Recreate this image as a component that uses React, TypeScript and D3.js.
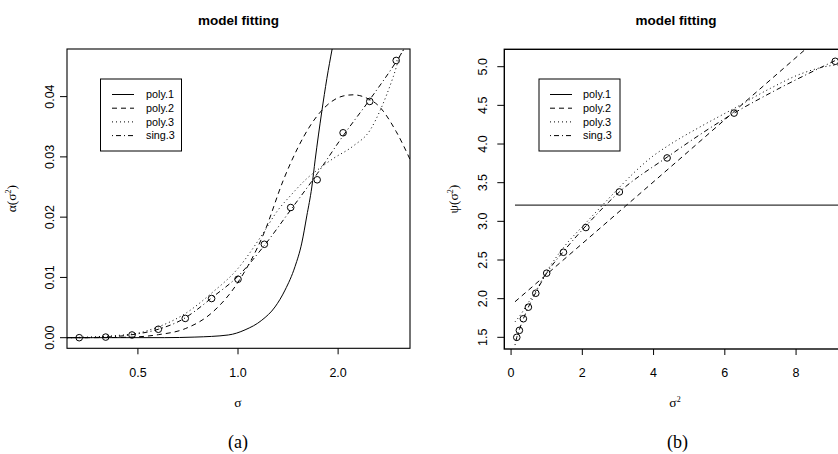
import React from "react";
import * as d3 from "d3";

// ---------- Panel (a): alpha(sigma^2) vs sigma (log axis) ----------
const sigmaObs = [0.333, 0.4, 0.48, 0.576, 0.694, 0.833, 1.0, 1.2, 1.44, 1.73, 2.07, 2.49, 2.99];
const alphaObs = [0.0, 0.0001, 0.00045, 0.0014, 0.0032, 0.0065, 0.0097, 0.0155, 0.0216, 0.0262, 0.034, 0.0392, 0.046];

const aPoly1Sigma = [0.306, 0.6, 0.742, 0.935, 1.05, 1.179, 1.292, 1.385, 1.484, 1.555, 1.61, 1.667, 1.706, 1.786, 1.85, 1.919];
const aPoly1Alpha = [0.0, 0.00001, 0.0001, 0.00045, 0.0013, 0.0029, 0.0051, 0.0079, 0.0118, 0.0157, 0.0202, 0.025, 0.0295, 0.0375, 0.043, 0.0479];

const aPoly2Sigma = [0.306, 0.4, 0.48, 0.576, 0.694, 0.833, 1.0, 1.2, 1.37, 1.44, 1.73, 2.07, 2.22, 2.49, 2.62, 2.99, 3.29];
const aPoly2Alpha = [0.0, 0.00002, 0.0001, 0.0005, 0.0015, 0.0041, 0.0092, 0.0175, 0.0262, 0.029, 0.0368, 0.0401, 0.0403, 0.0395, 0.0387, 0.0342, 0.0296];

const aPoly3Sigma = [0.306, 0.48, 0.576, 0.694, 0.833, 1.0, 1.179, 1.32, 1.44, 1.484, 1.61, 1.74, 1.93, 2.22, 2.5, 2.68, 2.93, 3.07, 3.16];
const aPoly3Alpha = [0.0, 0.0006, 0.0018, 0.004, 0.0074, 0.0115, 0.017, 0.0212, 0.0236, 0.0244, 0.0264, 0.0279, 0.0297, 0.0318, 0.0345, 0.0378, 0.0433, 0.0467, 0.048];

const aSing3Sigma = [0.306, 0.333, 0.4, 0.48, 0.576, 0.694, 0.742, 0.833, 1.0, 1.2, 1.44, 1.73, 2.07, 2.49, 2.99, 3.29];
const aSing3Alpha = [0.0, 0.0, 0.0001, 0.0005, 0.0014, 0.0033, 0.0044, 0.0066, 0.0102, 0.0153, 0.0212, 0.0272, 0.0335, 0.0395, 0.0458, 0.0495];

const aXTicks = [0.5, 1.0, 2.0];
const aXTickLabels = ["0.5", "1.0", "2.0"];
const aYTicks = [0, 0.01, 0.02, 0.03, 0.04];
const aYTickLabels = ["0.00", "0.01", "0.02", "0.03", "0.04"];

// ---------- Panel (b): psi(sigma^2) vs sigma^2 ----------
const s2Obs = [0.16, 0.233, 0.345, 0.486, 0.694, 1.0, 1.47, 2.1, 3.04, 4.38, 6.26, 9.1];
const psiObs = [1.5, 1.59, 1.74, 1.89, 2.07, 2.33, 2.6, 2.92, 3.38, 3.82, 4.4, 5.07];

const bPoly1S2 = [0.11, 9.6];
const bPoly1Psi = [3.21, 3.21];

const bPoly2S2 = [0.11, 3.22, 4.47, 6.26, 8.3];
const bPoly2Psi = [1.96, 3.2, 3.7, 4.42, 5.24];

const bPoly3S2 = [0.11, 0.233, 0.486, 0.694, 1.0, 1.47, 2.1, 2.69, 3.04, 4.0, 4.38, 5.3, 6.26, 7.28, 8.15, 9.1, 9.6];
const bPoly3Psi = [1.7, 1.77, 1.95, 2.1, 2.35, 2.66, 2.98, 3.27, 3.44, 3.85, 3.97, 4.22, 4.46, 4.72, 4.91, 5.02, 5.03];

const bSing3S2 = [0.11, 0.16, 0.233, 0.345, 0.486, 0.694, 1.0, 1.47, 2.1, 3.04, 4.38, 6.26, 7.28, 9.1, 9.6];
const bSing3Psi = [1.4, 1.5, 1.6, 1.74, 1.89, 2.08, 2.33, 2.61, 2.94, 3.38, 3.83, 4.4, 4.66, 5.08, 5.19];

const bXTicks = [0, 2, 4, 6, 8];
const bXTickLabels = ["0", "2", "4", "6", "8"];
const bYTicks = [1.5, 2.0, 2.5, 3.0, 3.5, 4.0, 4.5, 5.0];
const bYTickLabels = ["1.5", "2.0", "2.5", "3.0", "3.5", "4.0", "4.5", "5.0"];

const legendNames = ["poly.1", "poly.2", "poly.3", "sing.3"];
const dashes = ["none", "5,4", "1,3", "1,3,5,3"];

const SANS = "'Liberation Sans', Arial, Helvetica, sans-serif";
const SERIF = "'Liberation Serif', 'DejaVu Serif', serif";

const zip = (a: number[], b: number[]) => a.map((v, i) => [v, b[i]] as [number, number]);

function Legend({ x0, y0, lineX0, lineX1, textX }: { x0: number; y0: number; lineX0: number; lineX1: number; textX: number }) {
  const rows = [94.5, 108.2, 121.9, 135.6];
  return (
    <g>
      <rect x={x0} y={y0} width={81} height={72} fill="white" stroke="black" strokeWidth={1} />
      {legendNames.map((n, i) => (
        <g key={n}>
          <line x1={lineX0} x2={lineX1} y1={rows[i]} y2={rows[i]} stroke="black" strokeWidth={1} strokeDasharray={dashes[i]} />
          <text x={textX} y={rows[i] + 3.8} fontFamily={SANS} fontSize={10.8}>{n}</text>
        </g>
      ))}
    </g>
  );
}

export default function App() {
  const xA = d3.scaleLog().domain([0.306, 3.29]).range([67, 410]);
  const yA = d3.scaleLinear().domain([-0.00176, 0.0479]).range([348.3, 49]);
  const xB = d3.scaleLinear().domain([-0.19, 9.45]).range([504.3, 504.3 + 9.64 * 35.625]);
  const yB = d3.scaleLinear().domain([1.349, 5.225]).range([349, 49.3]);

  const lineA = d3.line<[number, number]>().x((d) => xA(d[0])).y((d) => yA(d[1])).curve(d3.curveMonotoneX);
  const lineB = d3.line<[number, number]>().x((d) => xB(d[0])).y((d) => yB(d[1])).curve(d3.curveMonotoneX);

  const aCurves = [
    zip(aPoly1Sigma, aPoly1Alpha),
    zip(aPoly2Sigma, aPoly2Alpha),
    zip(aPoly3Sigma, aPoly3Alpha),
    zip(aSing3Sigma, aSing3Alpha),
  ];
  const bCurves = [
    zip(bPoly1S2, bPoly1Psi),
    zip(bPoly2S2, bPoly2Psi),
    zip(bPoly3S2, bPoly3Psi),
    zip(bSing3S2, bSing3Psi),
  ];

  const [ax0, ax1] = xA.range();
  const [ay0, ay1] = yA.range();
  const [bx0, bx1] = xB.range();
  const [by0, by1] = yB.range();

  return (
    <svg width={838} height={454} style={{ position: "absolute", left: 0, top: 0, background: "white" }}>
      <defs>
        <clipPath id="clipA">
          <rect x={ax0} y={ay1} width={ax1 - ax0} height={ay0 - ay1} />
        </clipPath>
        <clipPath id="clipB">
          <rect x={bx0} y={by1} width={bx1 - bx0} height={by0 - by1} />
        </clipPath>
      </defs>
      <rect x={0} y={0} width={838} height={454} fill="white" />

      {/* ===== Panel a ===== */}
      <text x={238.5} y={24.5} textAnchor="middle" fontFamily={SANS} fontWeight="bold" fontSize={13.5}>model fitting</text>
      <g clipPath="url(#clipA)">
        {aCurves.map((c, i) => (
          <path key={i} d={lineA(c) || ""} fill="none" stroke="black" strokeWidth={1} strokeDasharray={dashes[i]} />
        ))}
        {sigmaObs.map((s, i) => (
          <circle key={i} cx={xA(s)} cy={yA(alphaObs[i])} r={3.3} fill="none" stroke="black" strokeWidth={1} />
        ))}
      </g>
      <rect x={ax0} y={ay1} width={ax1 - ax0} height={ay0 - ay1} fill="none" stroke="black" strokeWidth={1.1} />
      {aXTicks.map((t, i) => (
        <g key={t}>
          <line x1={xA(t)} x2={xA(t)} y1={ay0} y2={ay0 + 6} stroke="black" strokeWidth={1} />
          <text x={xA(t)} y={376.5} textAnchor="middle" fontFamily={SANS} fontSize={12.5}>{aXTickLabels[i]}</text>
        </g>
      ))}
      {aYTicks.map((t, i) => (
        <g key={t}>
          <line x1={ax0} x2={ax0 - 7} y1={yA(t)} y2={yA(t)} stroke="black" strokeWidth={1} />
          <text transform={`translate(53.5,${yA(t)}) rotate(-90)`} textAnchor="middle" fontFamily={SANS} fontSize={12.5}>{aYTickLabels[i]}</text>
        </g>
      ))}
      <text x={238} y={406.5} textAnchor="middle" fontFamily={SERIF} fontSize={13.5}>σ</text>
      <text transform={`translate(16,${(ay0 + ay1) / 2}) rotate(-90)`} textAnchor="middle" fontFamily={SERIF} fontSize={13.5}>
        α(σ<tspan dy={-5} fontSize={8}>2</tspan><tspan dy={5}>)</tspan>
      </text>
      <Legend x0={100.5} y0={79} lineX0={112} lineX1={134} textX={146} />
      <text x={238} y={447.5} textAnchor="middle" fontFamily={SERIF} fontSize={18}>(a)</text>

      {/* ===== Panel b ===== */}
      <text x={676} y={24.5} textAnchor="middle" fontFamily={SANS} fontWeight="bold" fontSize={13.5}>model fitting</text>
      <g clipPath="url(#clipB)">
        {bCurves.map((c, i) => (
          <path key={i} d={lineB(c) || ""} fill="none" stroke="black" strokeWidth={1} strokeDasharray={dashes[i]} />
        ))}
        {s2Obs.map((s, i) => (
          <circle key={i} cx={xB(s)} cy={yB(psiObs[i])} r={3.3} fill="none" stroke="black" strokeWidth={1} />
        ))}
      </g>
      <rect x={bx0} y={by1} width={bx1 - bx0} height={by0 - by1} fill="none" stroke="black" strokeWidth={1.4} />
      {bXTicks.map((t, i) => (
        <g key={t}>
          <line x1={xB(t)} x2={xB(t)} y1={by0} y2={by0 + 6} stroke="black" strokeWidth={1} />
          <text x={xB(t)} y={376.5} textAnchor="middle" fontFamily={SANS} fontSize={12.5}>{bXTickLabels[i]}</text>
        </g>
      ))}
      {bYTicks.map((t, i) => (
        <g key={t}>
          <line x1={bx0} x2={bx0 - 7} y1={yB(t)} y2={yB(t)} stroke="black" strokeWidth={1} />
          <text transform={`translate(487,${yB(t)}) rotate(-90)`} textAnchor="middle" fontFamily={SANS} fontSize={12.5}>{bYTickLabels[i]}</text>
        </g>
      ))}
      <text x={675} y={406.5} textAnchor="middle" fontFamily={SERIF} fontSize={13.5}>
        σ<tspan dy={-5} fontSize={8}>2</tspan>
      </text>
      <text transform={`translate(458,${(by0 + by1) / 2}) rotate(-90)`} textAnchor="middle" fontFamily={SERIF} fontSize={13.5}>
        ψ(σ<tspan dy={-5} fontSize={8}>2</tspan><tspan dy={5}>)</tspan>
      </text>
      <Legend x0={539} y0={79} lineX0={550} lineX1={572} textX={583} />
      <text x={677.5} y={447.5} textAnchor="middle" fontFamily={SERIF} fontSize={18}>(b)</text>
    </svg>
  );
}
